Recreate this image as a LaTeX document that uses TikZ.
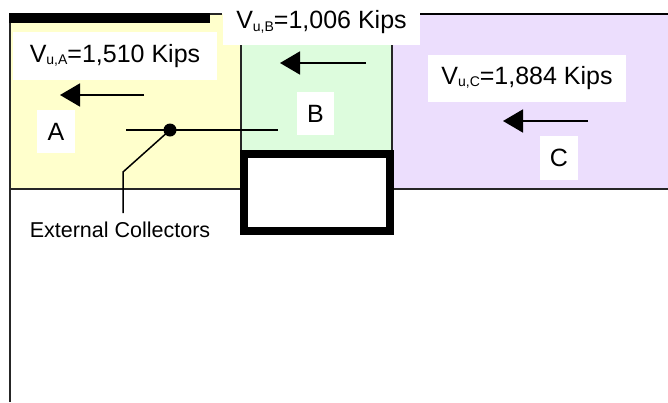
\documentclass[tikz,border=0pt]{standalone}
\usepackage{fontspec}
\setmainfont{Liberation Sans}
\usetikzlibrary{arrows.meta}
\definecolor{yelA}{RGB}{255,255,204}
\definecolor{grnB}{RGB}{221,252,221}
\definecolor{purC}{RGB}{236,222,253}
\newcommand{\subsc}[1]{\raisebox{-0.1em}{\fontsize{14}{14}\selectfont #1}}
\begin{document}
\begin{tikzpicture}[x=1pt,y=-1pt,
  lbl/.style={fill=white, inner sep=0pt, font=\fontsize{25}{25}\selectfont},
  force/.style={line width=1.8pt, -{Triangle[length=20pt,width=23pt]}},
  edge/.style={line width=1.5pt, draw=black!85},
  coll/.style={line width=1.5pt}]
\useasboundingbox (0,0) rectangle (668,402);
% regions
\fill[yelA] (10,14) rectangle (241,189);
\fill[grnB] (241,14) rectangle (392,152);
\fill[purC] (392,14) rectangle (668,189);
% outlines
\draw[edge] (10,402) -- (10,14) -- (222,14);
\draw[edge] (10,189) -- (241,189);
\draw[edge] (241,14) -- (241,152);
\draw[edge] (392,14) -- (392,152);
\draw[edge] (392,189) -- (668,189);
\draw[line width=2.5pt] (415,14) -- (668,14);
\fill (9,13) rectangle (210,23);
% thick box
\draw[line width=8pt, fill=white] (244,154) rectangle (390,231);
% labels
\node[lbl, minimum width=204pt, minimum height=48pt] (VA) at (115,56) {V\subsc{u,A}=1,510 Kips};
\node[lbl, minimum width=197pt, minimum height=45pt] (VB) at (321.5,22.5) {V\subsc{u,B}=1,006 Kips};
\node[lbl, minimum width=198pt, minimum height=47pt] (VC) at (527,78) {V\subsc{u,C}=1,884 Kips};
\node[lbl, minimum width=38pt, minimum height=43pt] (A) at (56,131.5) {A};
\node[lbl, minimum width=37pt, minimum height=43pt] (B) at (315.5,113.5) {B};
\node[lbl, minimum width=38pt, minimum height=44pt] (C) at (559,158) {C};
% forces
\coordinate (fA1) at (144,95); \coordinate (fA2) at (60,95);
\coordinate (fB1) at (366,63); \coordinate (fB2) at (280,63);
\coordinate (fC1) at (588,121); \coordinate (fC2) at (503,121);
\draw[force] (fA1) -- (fA2);
\draw[force] (fB1) -- (fB2);
\draw[force] (fC1) -- (fC2);
% collectors
\coordinate (cl) at (126,130);
\coordinate (cr) at (278,130);
\node[circle, fill=black, inner sep=0pt, minimum size=13pt] (dot) at (170,130) {};
\coordinate (bend) at (123,172);
\node[inner sep=0pt, anchor=north, font=\fontsize{21.5}{21.5}\selectfont] (ext) at (120,222) {External Collectors};
\coordinate (extTop) at (123,213);
\draw[coll] (cl) -- (cr);
\draw[coll] (dot.center) -- (bend) -- (extTop);
\end{tikzpicture}
\end{document}
